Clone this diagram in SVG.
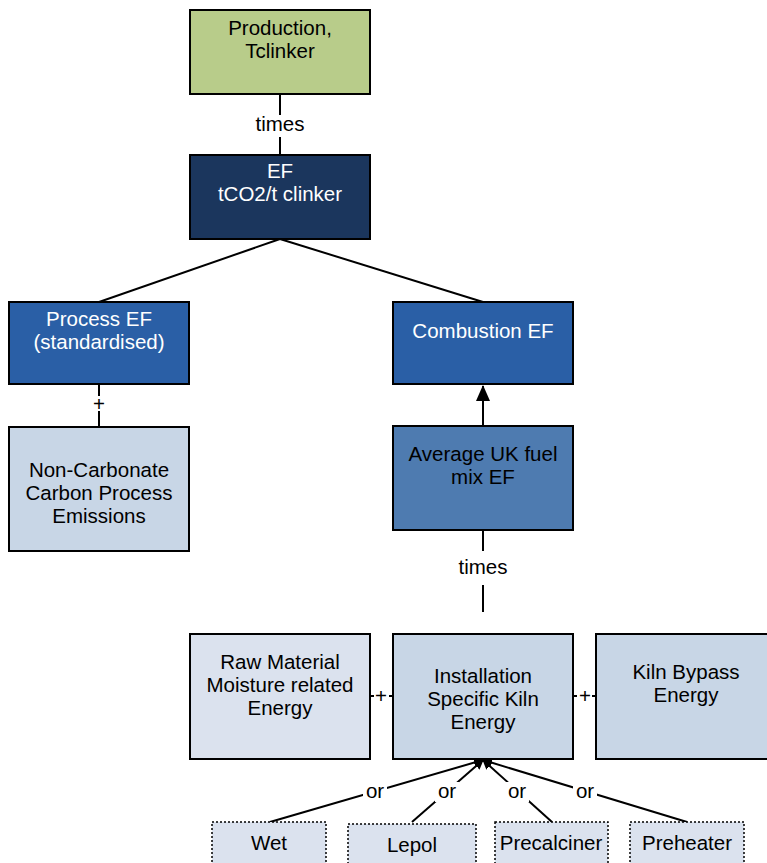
<svg xmlns="http://www.w3.org/2000/svg" width="767" height="863" viewBox="0 0 767 863">
<style>
text{font-family:"Liberation Sans",Arial,sans-serif;font-size:20.5px;text-anchor:middle;fill:#000}
.w{fill:#fff}
.box{stroke:#000;stroke-width:2}
.dot{stroke:#000;stroke-width:1.5;stroke-dasharray:2,2;fill:#dbe2ee}
.ln{stroke:#000;stroke-width:2;fill:none}
.lbl{fill:#fff}
</style>
<defs>
<marker id="ah" markerWidth="10" markerHeight="10" refX="9" refY="5" orient="auto" markerUnits="userSpaceOnUse">
<path d="M0,0 L10,5 L0,10 z" fill="#000"/>
</marker>
<marker id="big" markerWidth="16" markerHeight="14" refX="15" refY="7" orient="auto" markerUnits="userSpaceOnUse">
<path d="M0,0 L16,7 L0,14 z" fill="#000"/>
</marker>
</defs>
<rect width="767" height="863" fill="#fff"/>
<g id="connectors">
<line class="ln" x1="280" y1="94" x2="280" y2="155"/>
<line class="ln" x1="280" y1="239" x2="99" y2="302"/>
<line class="ln" x1="280" y1="239" x2="483" y2="302"/>
<line class="ln" x1="99" y1="384" x2="99" y2="427"/>
<line class="ln" x1="483" y1="426" x2="483" y2="386" marker-end="url(#big)"/>
<line class="ln" x1="483" y1="530" x2="483" y2="612"/>
<line class="ln" x1="370" y1="696" x2="393" y2="696"/>
<line class="ln" x1="573" y1="696" x2="596" y2="696"/>
<line class="ln" x1="270" y1="822" x2="483" y2="760" marker-end="url(#ah)"/>
<line class="ln" x1="412" y1="822" x2="483" y2="760" marker-end="url(#ah)"/>
<line class="ln" x1="552" y1="822" x2="483" y2="760" marker-end="url(#ah)"/>
<line class="ln" x1="687" y1="822" x2="483" y2="760" marker-end="url(#ah)"/>
<rect class="lbl" x="253" y="115" width="54" height="22"/>
<text x="280" y="131">times</text>
<rect class="lbl" x="456" y="551" width="54" height="34"/>
<text x="483" y="574">times</text>
<rect class="lbl" x="91" y="396" width="16" height="15"/>
<text x="99" y="411">+</text>
<rect class="lbl" x="374" y="688" width="15" height="16"/>
<text x="381" y="703">+</text>
<rect class="lbl" x="577" y="688" width="15" height="16"/>
<text x="585" y="703">+</text>
<rect class="lbl" x="363" y="782" width="24" height="20"/>
<text x="375" y="798">or</text>
<rect class="lbl" x="435" y="782" width="24" height="20"/>
<text x="447" y="798">or</text>
<rect class="lbl" x="505" y="782" width="24" height="20"/>
<text x="517" y="798">or</text>
<rect class="lbl" x="573" y="782" width="24" height="20"/>
<text x="585" y="798">or</text>
</g>
<g id="production">
<rect class="box" x="190" y="10" width="180" height="84" fill="#b8cc8a"/>
<text x="280" y="35">Production,</text>
<text x="280" y="58">Tclinker</text>
</g>
<g id="ef">
<rect class="box" x="190" y="155" width="180" height="84" fill="#1b365d"/>
<text class="w" x="280" y="178">EF</text>
<text class="w" x="280" y="201">tCO2/t clinker</text>
</g>
<g id="process-ef">
<rect class="box" x="9" y="302" width="180" height="82" fill="#2a5fa6"/>
<text class="w" x="99" y="326">Process EF</text>
<text class="w" x="99" y="349">(standardised)</text>
</g>
<g id="combustion-ef">
<rect class="box" x="393" y="302" width="180" height="82" fill="#2a5fa6"/>
<text class="w" x="483" y="338">Combustion EF</text>
</g>
<g id="non-carbonate">
<rect class="box" x="9" y="427" width="180" height="124" fill="#c8d6e6"/>
<text x="99" y="477">Non-Carbonate</text>
<text x="99" y="500">Carbon Process</text>
<text x="99" y="523">Emissions</text>
</g>
<g id="average-uk">
<rect class="box" x="393" y="426" width="180" height="104" fill="#4e7bb0"/>
<text x="483" y="461">Average UK fuel</text>
<text x="483" y="484">mix EF</text>
</g>
<g id="raw-material">
<rect class="box" x="190" y="634" width="180" height="125" fill="#dbe2ee"/>
<text x="280" y="669">Raw Material</text>
<text x="280" y="692">Moisture related</text>
<text x="280" y="715">Energy</text>
</g>
<g id="installation">
<rect class="box" x="393" y="634" width="180" height="125" fill="#c8d6e6"/>
<text x="483" y="683">Installation</text>
<text x="483" y="706">Specific Kiln</text>
<text x="483" y="729">Energy</text>
</g>
<g id="kiln-bypass">
<rect class="box" x="596" y="634" width="180" height="125" fill="#c8d6e6"/>
<text x="686" y="679">Kiln Bypass</text>
<text x="686" y="702">Energy</text>
</g>
<g id="wet">
<rect class="dot" x="212" y="822" width="114" height="42"/>
<text x="269" y="850">Wet</text>
</g>
<g id="lepol">
<rect class="dot" x="348" y="824" width="128" height="42"/>
<text x="412" y="852">Lepol</text>
</g>
<g id="precalciner">
<rect class="dot" x="495" y="822" width="113" height="42"/>
<text x="551" y="850">Precalciner</text>
</g>
<g id="preheater">
<rect class="dot" x="630" y="822" width="114" height="42"/>
<text x="687" y="850">Preheater</text>
</g>
</svg>
